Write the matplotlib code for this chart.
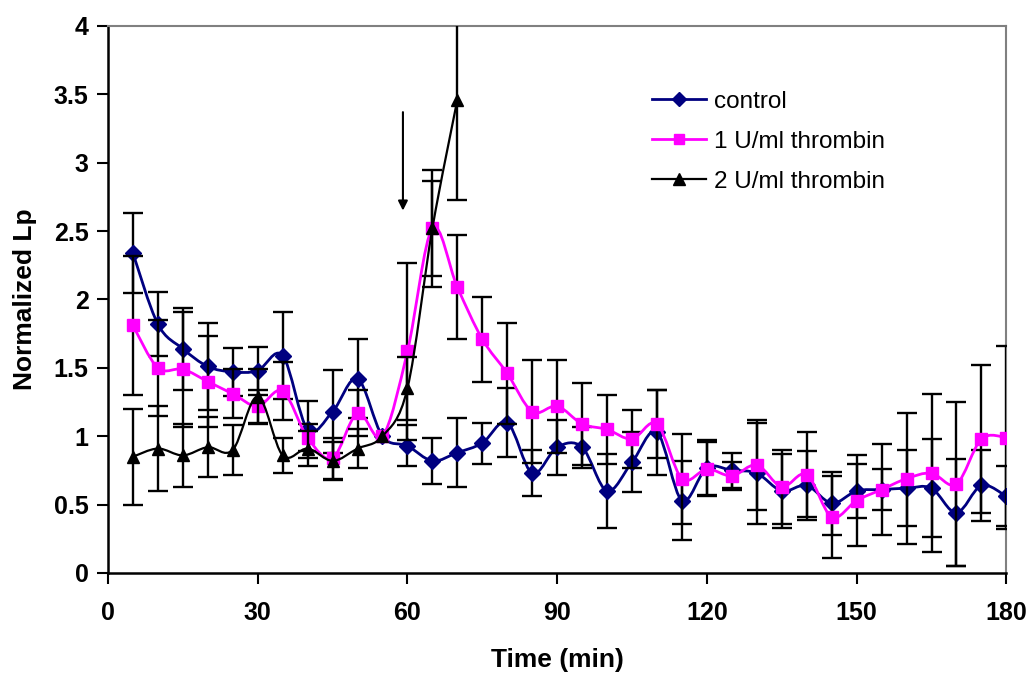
"""Normalized Lp over time for control and thrombin treatments."""
import matplotlib
matplotlib.use('Agg')
import matplotlib.pyplot as plt
import numpy as np
from matplotlib.lines import Line2D
from matplotlib.patches import PathPatch
from matplotlib.path import Path

plt.rcParams['font.family'] = ['Liberation Sans', 'DejaVu Sans']

time_all = [5, 10, 15, 20, 25, 30, 35, 40, 45, 50, 55, 60, 65, 70, 75, 80, 85, 90,
            95, 100, 105, 110, 115, 120, 125, 130, 135, 140, 145, 150, 155, 160,
            165, 170, 175, 180]
control = [2.34, 1.82, 1.64, 1.51, 1.47, 1.48, 1.59, 1.05, 1.18, 1.42, 1.00, 0.93,
           0.82, 0.88, 0.95, 1.10, 0.73, 0.92, 0.92, 0.60, 0.81, 1.03, 0.53, 0.77,
           0.75, 0.73, 0.60, 0.64, 0.51, 0.60, 0.61, 0.62, 0.62, 0.44, 0.64, 0.56]
control_err = [0.29, 0.235, 0.30, 0.317, 0.175, 0.175, 0.317, 0.21, 0.305, 0.29, 0.0,
               0.15, 0.17, 0.25, 0.15, 0.25, 0.17, 0.20, 0.15, 0.27, 0.22, 0.31,
               0.29, 0.20, 0.13, 0.37, 0.27, 0.25, 0.23, 0.20, 0.15, 0.28, 0.36,
               0.39, 0.26, 0.22]
thrombin1 = [1.81, 1.50, 1.49, 1.40, 1.31, 1.22, 1.33, 0.99, 0.84, 1.17, 1.00, 1.62,
             2.52, 2.09, 1.71, 1.46, 1.18, 1.22, 1.09, 1.05, 0.98, 1.09, 0.69, 0.76,
             0.71, 0.79, 0.63, 0.72, 0.41, 0.53, 0.61, 0.69, 0.73, 0.65, 0.98, 0.99]
thrombin1_err = [0.51, 0.35, 0.42, 0.33, 0.18, 0.12, 0.21, 0.10, 0.15, 0.17, 0.0,
                 0.65, 0.43, 0.38, 0.31, 0.37, 0.375, 0.34, 0.30, 0.25, 0.21, 0.25,
                 0.33, 0.20, 0.10, 0.33, 0.27, 0.31, 0.30, 0.33, 0.33, 0.48, 0.58,
                 0.60, 0.54, 0.67]
time_2u = [5, 10, 15, 20, 25, 30, 35, 40, 45, 50, 55, 60, 65, 70]
thrombin2 = [0.85, 0.91, 0.86, 0.92, 0.90, 1.29, 0.86, 0.91, 0.82, 0.91, 1.00, 1.35,
             2.52, 3.46]
thrombin2_err = [0.35, 0.31, 0.23, 0.22, 0.18, 0.20, 0.13, 0.13, 0.14, 0.14, 0.0,
                 0.23, 0.35, 0.73]

x_ticks = [0, 30, 60, 90, 120, 150, 180]
y_ticks = [0, 0.5, 1, 1.5, 2, 2.5, 3, 3.5, 4]
y_tick_labels = ['0', '0.5', '1', '1.5', '2', '2.5', '3', '3.5', '4']


def smooth_path(x, y):
    # Excel-style smoothed line: Catmull-Rom segments as cubic Beziers
    x = np.asarray(x, float)
    y = np.asarray(y, float)
    n = len(x)
    verts = [(x[0], y[0])]
    codes = [Path.MOVETO]
    for i in range(n - 1):
        a = max(i - 1, 0)
        d = min(i + 2, n - 1)
        c1 = (x[i] + (x[i + 1] - x[a]) / 6, y[i] + (y[i + 1] - y[a]) / 6)
        c2 = (x[i + 1] - (x[d] - x[i]) / 6, y[i + 1] - (y[d] - y[i]) / 6)
        verts += [c1, c2, (x[i + 1], y[i + 1])]
        codes += [Path.CURVE4] * 3
    return Path(verts, codes)


fig = plt.figure(figsize=(10.36, 6.73), dpi=100)
ax = fig.add_axes([0.1042, 0.1486, 0.8672, 0.8128])

series = [
    (time_all, control, control_err, '#000080', 'D', 8.5, 2.0, 'control'),
    (time_all, thrombin1, thrombin1_err, '#FF00FF', 's', 8.0, 2.0, '1 U/ml thrombin'),
    (time_2u, thrombin2, thrombin2_err, 'black', '^', 9.0, 1.6, '2 U/ml thrombin'),
]
handles = []
for k, (xs, ys, es, color, mk, ms, lw, label) in enumerate(series):
    z = 3 + k * 3
    keep = [i for i, e in enumerate(es) if e > 0]
    ax.errorbar([xs[i] for i in keep], [ys[i] for i in keep],
                yerr=[es[i] for i in keep], fmt='none', ecolor='black',
                elinewidth=1.7, capsize=7.5, capthick=1.7, zorder=z)
    ax.add_patch(PathPatch(smooth_path(xs, ys), facecolor='none', edgecolor=color,
                           lw=lw, zorder=z + 1))
    ax.plot(xs, ys, linestyle='none', marker=mk, markersize=ms, color=color,
            markeredgecolor=color, zorder=z + 2)
    handles.append(Line2D([], [], color=color, lw=lw, marker=mk, markersize=ms - 1,
                          markeredgecolor=color))

ax.annotate('', xy=(59.1, 2.65), xytext=(59.1, 3.37),
            arrowprops=dict(arrowstyle='-|>', color='black', lw=1.5,
                            mutation_scale=14, shrinkA=0, shrinkB=0))

ax.set_xlim(0, 180)
ax.set_ylim(0, 4)
ax.set_xticks(x_ticks)
ax.set_yticks(y_ticks)
ax.set_yticklabels(y_tick_labels)
ax.tick_params(axis='both', direction='out', length=8, width=1.5,
               labelsize=18, pad=6)
for lab in ax.get_xticklabels() + ax.get_yticklabels():
    lab.set_fontweight('bold')
ax.tick_params(axis='x', pad=12)

for side in ['left', 'bottom']:
    ax.spines[side].set_linewidth(1.8)
    ax.spines[side].set_color('black')
for side in ['top', 'right']:
    ax.spines[side].set_linewidth(1.5)
    ax.spines[side].set_color('#808080')

ax.set_xlabel('Time (min)', fontsize=19, fontweight='bold', labelpad=17)
ax.set_ylabel('Normalized Lp', fontsize=19, fontweight='bold', labelpad=12)

ax.legend(handles, [s[-1] for s in series], loc='upper left',
          bbox_to_anchor=(0.581, 0.922), frameon=False, fontsize=17.5,
          handlelength=2.25, handletextpad=0.3, labelspacing=0.74)

fig.savefig('out.png', dpi=100)
